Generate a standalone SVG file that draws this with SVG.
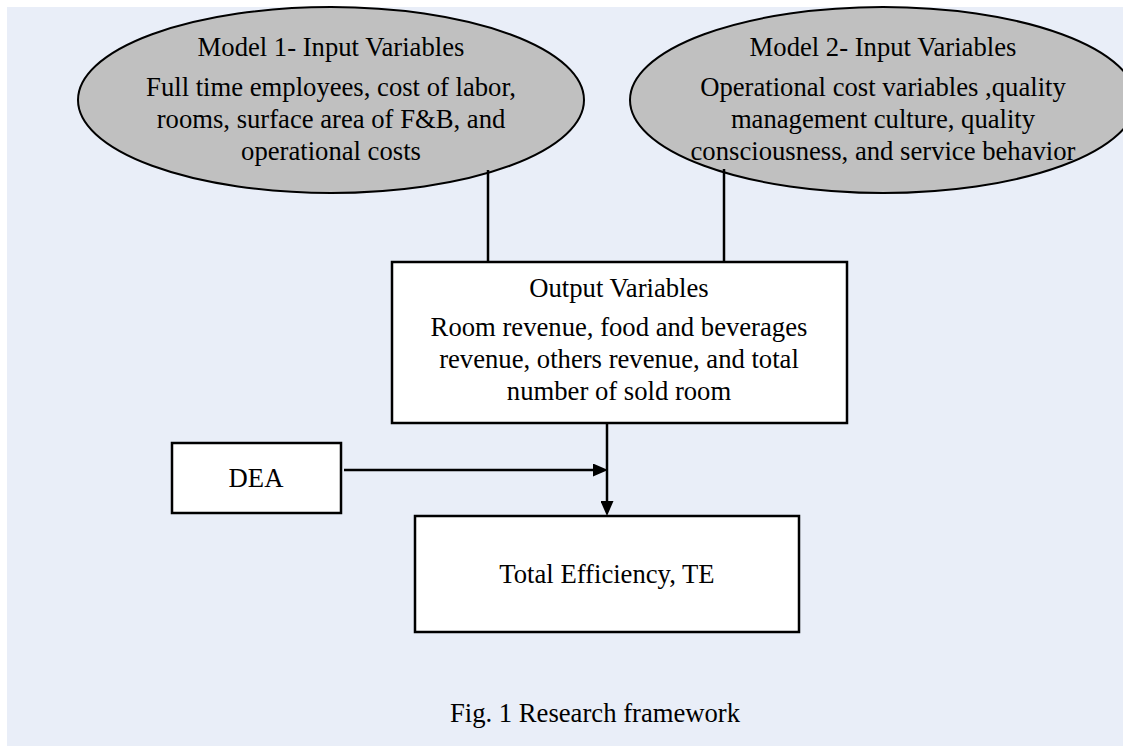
<svg xmlns="http://www.w3.org/2000/svg" width="1123" height="746" viewBox="0 0 1123 746">
<defs>
<style>
.t{font-family:"Liberation Serif","Times New Roman",serif;font-size:26.67px;fill:#000;text-anchor:middle}
.ell{fill:#C0C0C0;stroke:#000;stroke-width:2}
.box{fill:#fff;stroke:#000;stroke-width:2.5}
.ln{stroke:#000;stroke-width:2.5;fill:none}
</style>
<marker id="ah" viewBox="0 0 15 13" refX="0" refY="6.5" markerWidth="15" markerHeight="13" orient="auto" markerUnits="userSpaceOnUse">
<path d="M0,0 L15,6.5 L0,13 z" fill="#000"/>
</marker>
</defs>
<rect x="0" y="0" width="1123" height="746" fill="#fff"/>
<rect x="7" y="7" width="1116" height="739" fill="#E9EEF8"/>
<g id="model1">
<ellipse class="ell" cx="331" cy="100" rx="253" ry="93"/>
<text class="t" x="331" y="56">Model 1- Input Variables</text>
<text class="t" x="331" y="96">Full time employees, cost of labor,</text>
<text class="t" x="331" y="128">rooms, surface area of F&amp;B, and</text>
<text class="t" x="331" y="160">operational costs</text>
</g>
<g id="model2">
<ellipse class="ell" cx="883" cy="100" rx="253" ry="93"/>
<text class="t" x="883" y="56">Model 2- Input Variables</text>
<text class="t" x="883" y="96">Operational cost variables ,quality</text>
<text class="t" x="883" y="128">management culture, quality</text>
<text class="t" x="883" y="160">consciousness, and service behavior</text>
</g>
<g id="connectors">
<line class="ln" x1="488" y1="170" x2="488" y2="262"/>
<line class="ln" x1="724" y1="169" x2="724" y2="262"/>
<line class="ln" x1="607" y1="423" x2="607" y2="501" marker-end="url(#ah)"/>
<line class="ln" x1="344" y1="470" x2="593" y2="470" stroke-width="3" marker-end="url(#ah)"/>
</g>
<g id="output">
<rect class="box" x="392" y="262" width="455" height="161"/>
<text class="t" x="619" y="297">Output Variables</text>
<text class="t" x="619" y="336">Room revenue, food and beverages</text>
<text class="t" x="619" y="368">revenue, others revenue, and total</text>
<text class="t" x="619" y="400">number of sold room</text>
</g>
<g id="dea">
<rect class="box" x="172" y="443" width="169" height="70"/>
<text class="t" x="256" y="487">DEA</text>
</g>
<g id="te">
<rect class="box" x="415" y="516" width="384" height="116"/>
<text class="t" x="607" y="583">Total Efficiency, TE</text>
</g>
<g id="caption">
<text class="t" x="595" y="722">Fig. 1 Research framework</text>
</g>
</svg>
